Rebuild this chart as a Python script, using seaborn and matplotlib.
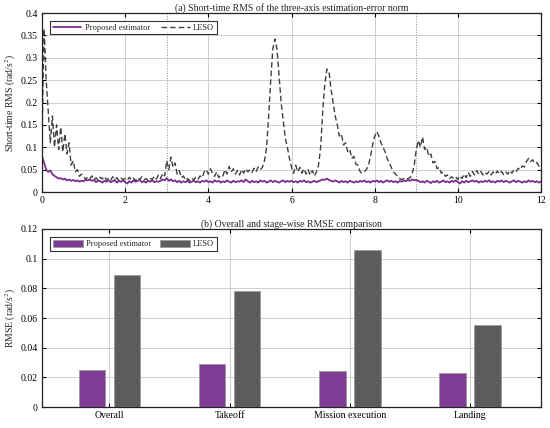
import numpy as np
import pandas as pd
import matplotlib
matplotlib.use("Agg")
import matplotlib.pyplot as plt
import seaborn as sns

# sample times of the short-time RMS curves (0.05 s step)
tiempo = np.linspace(0, 12, 241)

rms_propuesto = [
    0.080, 0.065, 0.050, 0.045, 0.048, 0.040, 0.036, 0.033, 0.030, 0.031, 0.028, 0.030, 0.026, 0.028, 0.025, 0.027, 0.024, 0.026, 0.023, 0.025,
    0.024, 0.027, 0.026, 0.028, 0.025, 0.027, 0.022, 0.026, 0.024, 0.021, 0.025, 0.023, 0.026, 0.022, 0.024, 0.027, 0.021, 0.025, 0.023, 0.026,
    0.022, 0.019, 0.024, 0.021, 0.026, 0.023, 0.025, 0.027, 0.022, 0.024, 0.021, 0.025, 0.023, 0.026, 0.022, 0.024, 0.023, 0.025, 0.028, 0.026,
    0.031, 0.025, 0.028, 0.024, 0.026, 0.022, 0.025, 0.021, 0.024, 0.022, 0.025, 0.021, 0.023, 0.025, 0.022, 0.024, 0.021, 0.025, 0.023, 0.026,
    0.022, 0.024, 0.021, 0.026, 0.023, 0.025, 0.021, 0.024, 0.022, 0.026, 0.023, 0.021, 0.025, 0.022, 0.024, 0.023, 0.026, 0.022, 0.028, 0.024,
    0.021, 0.025, 0.022, 0.024, 0.021, 0.026, 0.023, 0.025, 0.021, 0.023, 0.026, 0.022, 0.025, 0.023, 0.021, 0.024, 0.026, 0.022, 0.025, 0.023,
    0.025, 0.022, 0.024, 0.021, 0.025, 0.023, 0.026, 0.022, 0.024, 0.021, 0.023, 0.025, 0.022, 0.024, 0.026, 0.028, 0.027, 0.030, 0.027, 0.025,
    0.023, 0.026, 0.024, 0.021, 0.025, 0.022, 0.024, 0.021, 0.025, 0.023, 0.021, 0.024, 0.022, 0.025, 0.023, 0.026, 0.022, 0.024, 0.021, 0.025,
    0.023, 0.026, 0.022, 0.025, 0.021, 0.024, 0.026, 0.023, 0.025, 0.022, 0.024, 0.021, 0.025, 0.023, 0.026, 0.024, 0.027, 0.025, 0.028, 0.026,
    0.027, 0.025, 0.022, 0.024, 0.021, 0.025, 0.023, 0.020, 0.024, 0.022, 0.025, 0.021, 0.023, 0.026, 0.022, 0.024, 0.021, 0.025, 0.023, 0.026,
    0.022, 0.019, 0.024, 0.021, 0.025, 0.022, 0.024, 0.026, 0.023, 0.025, 0.021, 0.024, 0.022, 0.025, 0.023, 0.026, 0.022, 0.024, 0.021, 0.025,
    0.023, 0.026, 0.022, 0.025, 0.023, 0.021, 0.024, 0.026, 0.022, 0.025, 0.023, 0.021, 0.024, 0.022, 0.026, 0.023, 0.025, 0.022, 0.024, 0.021,
    0.024,
]

rms_leso = [
    0.120, 0.365, 0.250, 0.180, 0.110, 0.170, 0.100, 0.150, 0.095, 0.145, 0.090, 0.130, 0.085, 0.110, 0.060, 0.070, 0.045, 0.050, 0.035, 0.040,
    0.035, 0.028, 0.034, 0.030, 0.036, 0.027, 0.032, 0.026, 0.033, 0.029, 0.035, 0.027, 0.031, 0.026, 0.034, 0.028, 0.032, 0.025, 0.031, 0.028,
    0.030, 0.026, 0.033, 0.027, 0.031, 0.025, 0.032, 0.028, 0.034, 0.027, 0.030, 0.026, 0.031, 0.028, 0.035, 0.029, 0.038, 0.030, 0.042, 0.036,
    0.070, 0.050, 0.078, 0.055, 0.065, 0.040, 0.048, 0.032, 0.036, 0.026, 0.030, 0.025, 0.031, 0.027, 0.033, 0.028, 0.036, 0.032, 0.045, 0.050,
    0.040, 0.052, 0.042, 0.035, 0.045, 0.032, 0.038, 0.036, 0.050, 0.040, 0.057, 0.045, 0.052, 0.040, 0.048, 0.038, 0.050, 0.042, 0.052, 0.045,
    0.050, 0.044, 0.053, 0.046, 0.056, 0.050, 0.055, 0.070, 0.100, 0.170, 0.250, 0.320, 0.342, 0.320, 0.260, 0.200, 0.160, 0.120, 0.100, 0.075,
    0.055, 0.042, 0.060, 0.045, 0.055, 0.042, 0.052, 0.040, 0.050, 0.038, 0.048, 0.036, 0.045, 0.060, 0.100, 0.180, 0.240, 0.275, 0.270, 0.230,
    0.200, 0.170, 0.150, 0.125, 0.130, 0.105, 0.110, 0.090, 0.095, 0.075, 0.080, 0.062, 0.060, 0.045, 0.042, 0.045, 0.050, 0.060, 0.080, 0.105,
    0.125, 0.135, 0.125, 0.110, 0.100, 0.090, 0.075, 0.065, 0.055, 0.045, 0.040, 0.035, 0.030, 0.028, 0.030, 0.027, 0.030, 0.032, 0.040, 0.060,
    0.095, 0.115, 0.100, 0.123, 0.095, 0.100, 0.080, 0.085, 0.065, 0.068, 0.052, 0.055, 0.042, 0.045, 0.035, 0.038, 0.030, 0.034, 0.030, 0.034,
    0.028, 0.036, 0.030, 0.040, 0.032, 0.044, 0.035, 0.046, 0.038, 0.048, 0.040, 0.046, 0.038, 0.044, 0.040, 0.046, 0.038, 0.045, 0.040, 0.047,
    0.040, 0.046, 0.039, 0.045, 0.040, 0.048, 0.042, 0.050, 0.046, 0.053, 0.050, 0.058, 0.056, 0.068, 0.075, 0.068, 0.072, 0.064, 0.066, 0.058,
    0.062,
]

etapas = ["Overall", "Takeoff", "Mission execution", "Landing"]
rmse_propuesto = [0.025, 0.029, 0.024, 0.023]
rmse_leso = [0.089, 0.0785, 0.106, 0.055]

fronteras = [3, 9]

color_prop = "#7B2D8E"
color_leso = "#404040"
barra_prop = "#7E3C94"
barra_leso = "#5C5C5C"

sns.set_theme(style="ticks")
plt.rcParams["font.family"] = ["Liberation Serif", "DejaVu Serif"]
plt.rcParams["mathtext.fontset"] = "stix"

fig = plt.figure(figsize=(5.5, 4.28), dpi=100)
ax1 = fig.add_axes([0.0764, 0.5514, 0.9073, 0.4182])
ax2 = fig.add_axes([0.0764, 0.049, 0.9073, 0.416])

# (a) curvas RMS
df_rms = pd.DataFrame({"t": tiempo, "prop": rms_propuesto, "leso": rms_leso})
sns.lineplot(data=df_rms, x="t", y="prop", ax=ax1, color=color_prop, lw=1.3,
             label="Proposed estimator")
sns.lineplot(data=df_rms, x="t", y="leso", ax=ax1, color=color_leso, lw=1.0,
             linestyle=(0, (4, 2.2)), label="LESO")
for f in fronteras:
    ax1.axvline(f, color="#888888", lw=0.7, ls=":", zorder=0)

ax1.set_xlim(0, 12)
ax1.set_ylim(0, 0.4)
ax1.set_xticks(range(0, 13, 2))
ax1.set_yticks(np.arange(0, 0.401, 0.05))
ax1.set_yticklabels(["0", "0.05", "0.1", "0.15", "0.2", "0.25", "0.3", "0.35", "0.4"])
ax1.set_xlabel("")
ax1.set_ylabel("Short-time RMS (rad/s$^2$)", fontsize=7, labelpad=2)
ax1.set_title("(a) Short-time RMS of the three-axis estimation-error norm",
              fontsize=7, pad=1.5)
leg1 = ax1.legend(loc="upper left", ncol=2, fontsize=6, frameon=True, fancybox=False,
                  edgecolor="black", handlelength=3.4, columnspacing=1.4,
                  borderpad=0.3, borderaxespad=1.0, handletextpad=0.4)
leg1.get_frame().set_linewidth(0.8)

# (b) barras RMSE
df_bar = pd.DataFrame({
    "etapa": etapas * 2,
    "valor": rmse_propuesto + rmse_leso,
    "metodo": ["Proposed estimator"] * 4 + ["LESO"] * 4,
})
sns.barplot(data=df_bar, x="etapa", y="valor", hue="metodo", ax=ax2,
            palette=[barra_prop, barra_leso], saturation=1, width=0.58, gap=0.24,
            edgecolor="#9a9a9a", linewidth=0.6, zorder=3)
ax2.set_xlim(-0.56, 3.59)
ax2.set_ylim(0, 0.12)
ax2.set_yticks(np.arange(0, 0.121, 0.02))
ax2.set_yticklabels(["0", "0.02", "0.04", "0.06", "0.08", "0.1", "0.12"])
ax2.set_xlabel("")
ax2.set_ylabel("RMSE (rad/s$^2$)", fontsize=7, labelpad=2)
ax2.set_title("(b) Overall and stage-wise RMSE comparison", fontsize=7, pad=1.5)
leg2 = ax2.legend(loc="upper left", ncol=2, fontsize=6, frameon=True, fancybox=False,
                  edgecolor="black", handlelength=3.6, handleheight=0.9,
                  columnspacing=1.0, borderpad=0.3, borderaxespad=1.0,
                  handletextpad=0.4)
leg2.get_frame().set_linewidth(0.8)

for ax in (ax1, ax2):
    ax.grid(True, color="#c8c8c8", lw=0.6, zorder=0)
    ax.set_axisbelow(True)
    ax.tick_params(direction="in", top=True, right=True, length=3, width=0.8,
                   labelsize=7, pad=3, colors="black")
    for s in ax.spines.values():
        s.set_visible(True)
        s.set_linewidth(0.9)
        s.set_color("#222222")

fig.savefig("out.png", dpi=100)
